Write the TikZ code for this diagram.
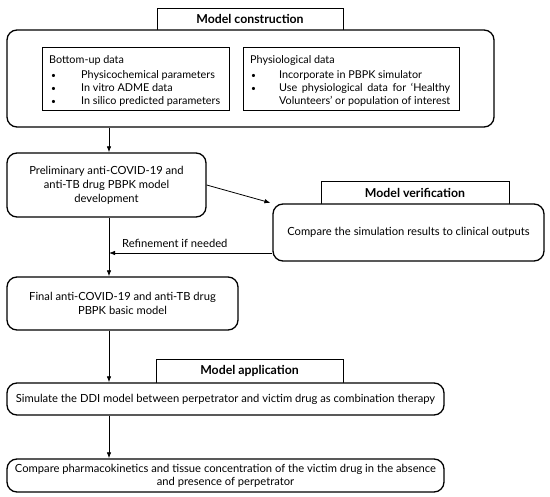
\documentclass[tikz,border=0pt]{standalone}
\usepackage{fontspec}
\setmainfont{Lato}
\usetikzlibrary{arrows.meta,calc}
\newlength\volw
\begin{document}
\begin{tikzpicture}[x=1pt,y=-1pt,
  every node/.style={font=\fontsize{11.2}{14}\selectfont, inner sep=0pt},
  tabbox/.style={draw, line width=0.8pt, font=\fontsize{12.3}{14}\selectfont\bfseries},
  rbox/.style={draw, line width=1.3pt, rounded corners=10pt, align=center},
  ibox/.style={draw, line width=0.8pt},
  arr/.style={line width=0.8pt, -{Latex[length=6pt,width=4.5pt]}},
  ln/.style={anchor=base west, font=\fontsize{10.8}{14}\selectfont},
  bul/.style={anchor=base west, font=\fontsize{8.5}{14}\selectfont}
]
\useasboundingbox (0,0) rectangle (550,497);
\coordinate (c1) at (109,0);
% Model construction
\node[tabbox, minimum width=186pt, minimum height=22pt] (tab1) at (250,19) {Model construction};
\node[rbox, minimum width=487pt, minimum height=97pt, fill=white] (outer) at (250.5,78.5) {};
\node[ibox, minimum width=187pt, minimum height=63pt] (inL) at (135.5,78.5) {};
\node[ibox, minimum width=216pt, minimum height=63pt] (inR) at (351,78.5) {};
\node[ln] (l0) at (49,64) {Bottom-up data};
\node[bul] (b1) at (51,78.5) {•};
\node[ln] (t1) at (81,78.5) {Physicochemical parameters};
\node[bul] (b2) at (51,91.5) {•};
\node[ln] (t2) at (81,91.5) {In vitro ADME data};
\node[bul] (b3) at (51,105) {•};
\node[ln] (t3) at (81,105) {In silico predicted parameters};
\node[ln] (r0) at (250,64) {Physiological data};
\node[bul] (rb1) at (251,78.5) {•};
\node[ln] (rt1) at (279,78.5) {Incorporate in PBPK simulator};
\node[bul] (rb2) at (251,91.5) {•};
\node[ln] (rt2) at (279,91.5) {\settowidth{\volw}{Volunteers’ or population of interest}\makebox[\volw][s]{Use physiological data for ‘Healthy}};
\node[ln] (rt3) at (279,105) {Volunteers’ or population of interest};
% Preliminary
\node[rbox, minimum width=199pt, minimum height=64pt] (prelim) at (106.5,185) {Preliminary anti-COVID-19 and\\anti-TB drug PBPK model\\development};
% Verification
\node[tabbox, minimum width=188pt, minimum height=23pt] (tab2) at (415,192.5) {Model verification};
\node[rbox, minimum width=271pt, minimum height=57pt, fill=white] (verif) at (408.5,232.5) {Compare the simulation results to clinical outputs};
% Final
\node[rbox, minimum width=231pt, minimum height=53pt] (final) at (122.5,303.5) {Final anti-COVID-19 and anti-TB drug\\PBPK basic model};
% Application
\node[tabbox, minimum width=187pt, minimum height=24pt] (tab3) at (249.5,371) {Model application};
\node[rbox, minimum width=437pt, minimum height=32pt, fill=white] (app) at (225.5,399) {Simulate the DDI model between perpetrator and victim drug as combination therapy};
\node[rbox, minimum width=437pt, minimum height=33pt, font=\fontsize{11.2}{13}\selectfont] (cmp) at (225.5,475.5) {Compare pharmacokinetics and tissue concentration of the victim drug in the absence\\and presence of perpetrator};
% connectors
\draw[arr] (outer.south -| c1) -- (prelim.north -| c1);
\draw[arr] (prelim.south -| c1) -- (final.north -| c1);
\draw[arr, shorten >=2pt] (prelim.east) -- (verif.north west);
\coordinate (rf) at (300,253);
\draw[arr] (rf -| verif.west) -- (rf -| c1);
\node[anchor=west] (rlab) at (122,243) {Refinement if needed};
\draw[arr] (final.south -| c1) -- (app.north -| c1);
\draw[arr] (app.south -| c1) -- (cmp.north -| c1);
\end{tikzpicture}
\end{document}
